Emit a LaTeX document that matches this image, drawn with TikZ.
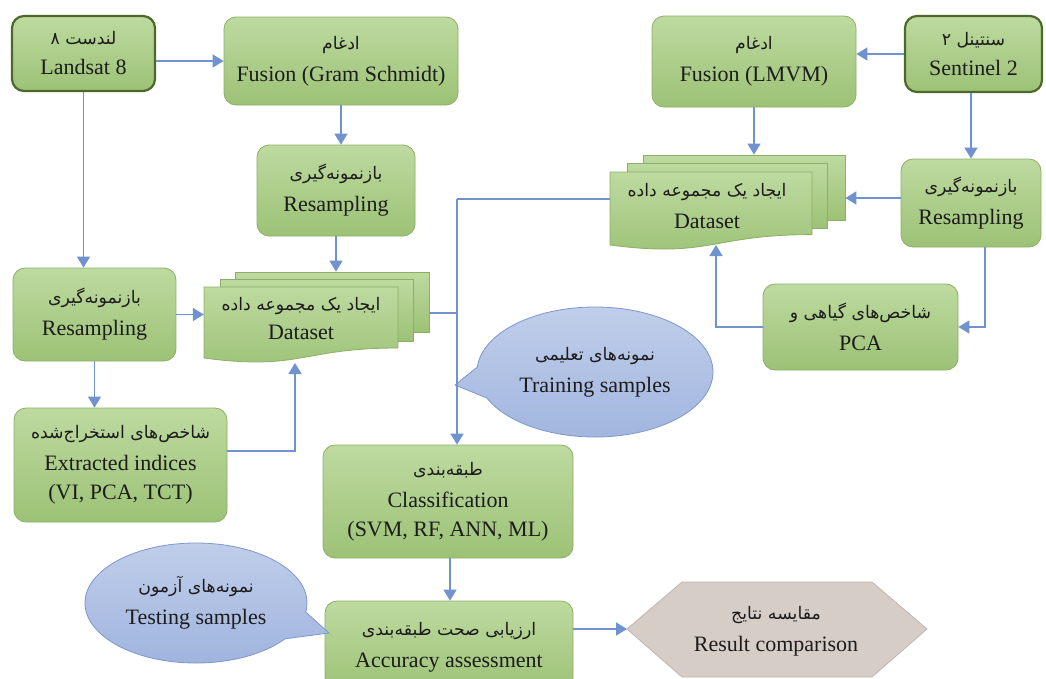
\documentclass[tikz,border=0pt]{standalone}
\usepackage{fontspec}
\setmainfont{Liberation Serif}
\newfontfamily\fa[Script=Arabic]{DejaVu Sans}
\TeXXeTstate=1
\usetikzlibrary{shapes.geometric,shapes.callouts,arrows.meta}
\definecolor{gtop}{RGB}{190,218,160}
\definecolor{gbot}{RGB}{156,194,118}
\definecolor{gline}{RGB}{140,174,102}
\definecolor{gdark}{RGB}{78,104,44}
\definecolor{lblue}{RGB}{112,146,206}
\definecolor{btop}{RGB}{192,206,234}
\definecolor{bbot}{RGB}{160,180,222}
\definecolor{bline}{RGB}{125,150,205}
\definecolor{hfill}{RGB}{214,205,199}
\definecolor{hline}{RGB}{192,182,176}
\definecolor{ink}{RGB}{28,28,28}
\newcommand{\fat}[1]{{\fa\fontsize{17.3}{20}\selectfont\beginR #1\endR}}
\tikzset{
  box/.style={rectangle, rounded corners=12pt, draw=gline, line width=0.8pt,
    top color=gtop, bottom color=gbot, align=center, inner sep=0pt,
    font=\fontsize{22}{32}\selectfont, text=ink},
  srcbox/.style={box, draw=gdark, line width=2.2pt},
  sheet/.style={draw=gline, line width=0.8pt, top color=gtop, bottom color=gbot},
  sheetnode/.style={sheet, rectangle, inner sep=0pt},
  anchorbox/.style={rectangle, inner sep=0pt},
  txt/.style={align=center, inner sep=0pt, font=\fontsize{22}{32}\selectfont, text=ink},
  link/.style={draw=lblue, line width=1.5pt},
  arr/.style={link, -{Triangle[length=11pt,width=13pt]}},
  bubble/.style={ellipse callout, draw=bline, line width=0.8pt, top color=btop,
    bottom color=bbot, align=center, inner sep=0pt, callout pointer arc=28,
    font=\fontsize{22}{32}\selectfont, text=ink},
}
\begin{document}
\begin{tikzpicture}[x=1pt,y=-1pt]
\useasboundingbox (0,0) rectangle (1046,678);
\clip (0,0) rectangle (1046,678);
\fill[white] (0,0) rectangle (1046,678);

% left column
\node[srcbox, minimum width=143pt, minimum height=75pt] (ls) at (83.5,53.5) {\fat{لندست ۸}\\[-2pt]Landsat 8};
\node[box, minimum width=234pt, minimum height=88pt] (fgs) at (341,61) {\fat{ادغام}\\Fusion (Gram Schmidt)};
\node[box, minimum width=158pt, minimum height=91pt] (rsT) at (336,190.5) {\fat{بازنمونه‌گیری}\\Resampling};
\node[box, minimum width=163pt, minimum height=93pt] (rsL) at (94.5,314.5) {\fat{بازنمونه‌گیری}\\Resampling};
\node[box, minimum width=213pt, minimum height=114pt] (ext) at (120.5,465) {\fat{شاخص‌های استخراج‌شده}\\Extracted indices\\[-3pt](VI, PCA, TCT)};

% left dataset stack
\node[sheetnode, minimum width=194pt, minimum height=60pt] (dsLb) at (332,302) {};
\node[sheetnode, minimum width=193pt, minimum height=62pt] (dsLm) at (316.5,310) {};
\path[sheet] (204,287) -- (398,287) -- (398,348) .. controls (301,348) and (301,371) .. (204,358) -- cycle;
\node[anchorbox, minimum width=194pt, minimum height=62pt] (dsLf) at (301,318) {};
\node[txt] (dsL) at (301,319) {\fat{ایجاد یک مجموعه داده}\\[-3pt]Dataset};

% right column
\node[srcbox, minimum width=137pt, minimum height=76pt] (sn) at (973.5,54) {\fat{سنتینل ۲}\\[-2pt]Sentinel 2};
\node[box, minimum width=204pt, minimum height=91pt] (fl) at (754,61.5) {\fat{ادغام}\\Fusion (LMVM)};
\node[box, minimum width=140pt, minimum height=88pt] (rsR) at (971,203) {\fat{بازنمونه‌گیری}\\Resampling};
\node[box, minimum width=195pt, minimum height=86pt] (pca) at (860.5,327) {\fat{شاخص‌های گیاهی و}\\PCA};

% right dataset stack
\node[sheetnode, minimum width=202pt, minimum height=65pt] (dsRb) at (744,187.5) {};
\node[sheetnode, minimum width=200pt, minimum height=65pt] (dsRm) at (727,195.5) {};
\path[sheet] (610,172) -- (812,172) -- (812,234.6) .. controls (711,234.6) and (711,258.3) .. (610,245) -- cycle;
\node[anchorbox, minimum width=202pt, minimum height=66pt] (dsRf) at (711,205) {};
\node[txt] (dsR) at (707,206) {\fat{ایجاد یک مجموعه داده}\\Dataset};

% bottom
\node[box, minimum width=250pt, minimum height=113pt] (cls) at (448,501.5) {\fat{طبقه‌بندی}\\Classification\\[-3pt](SVM, RF, ANN, ML)};
\node[box, minimum width=248pt, minimum height=92pt] (acc) at (449,647) {\fat{ارزیابی صحت طبقه‌بندی}\\Accuracy assessment};
\path[draw=hline, line width=0.8pt, fill=hfill] (627,629) -- (682,582) -- (872,582) -- (927,629) -- (872,677) -- (682,677) -- cycle;
\coordinate (hexL) at (627,629);
\node[txt] (res) at (776,631) {\fat{مقایسه نتایج}\\Result comparison};

% callouts
\node[bubble, minimum width=236pt, minimum height=130pt, callout absolute pointer={(455,385)}] (tr) at (595,372) {\fat{نمونه‌های تعلیمی}\\Training samples};
\node[bubble, minimum width=222pt, minimum height=120pt, callout absolute pointer={(329,633)}] (ts) at (196,603) {\fat{نمونه‌های آزمون}\\Testing samples};

% connectors left
\draw[arr] (ls.east |- fgs.west) -- (fgs.west);
\draw[arr] (ls.south) -- (ls.south |- rsL.north);
\draw[arr] (fgs.south) -- (fgs.south |- rsT.north);
\draw[arr] (rsT.south) -- (rsT.south |- dsLb.north);
\draw[arr] (rsL.east) -- (rsL.east -| dsLf.west);
\draw[arr] (rsL.south) -- (rsL.south |- ext.north);
\coordinate (eL) at (295,363);
\draw[arr] ([yshift=14pt]ext.east) -| (eL);

% connectors right
\draw[arr] (sn.west) -- (sn.west -| fl.east);
\draw[arr] (fl.south) -- (fl.south |- dsRb.north);
\draw[arr] (sn.south -| rsR.north) -- (rsR.north);
\draw[arr] ([yshift=5pt]rsR.west) -- ([yshift=5pt]rsR.west -| dsRb.east);
\draw[arr] ([xshift=14pt]rsR.south) |- (pca.east);
\coordinate (pL) at (716,245);
\draw[arr] (pca.west) -| (pL);

% junction to classification
\coordinate (jx) at (457,199);
\coordinate (jl) at (457,313);
\draw[link] (jx -| dsRf.west) -- (jx);
\draw[link] (jl -| dsLb.east) -- (jl);
\draw[arr] (jx) -- (jx |- cls.north);
\draw[arr] ([xshift=2pt]cls.south) -- ([xshift=2pt]cls.south |- acc.north);
\draw[arr] (acc.east |- hexL) -- (hexL);
\end{tikzpicture}
\end{document}
